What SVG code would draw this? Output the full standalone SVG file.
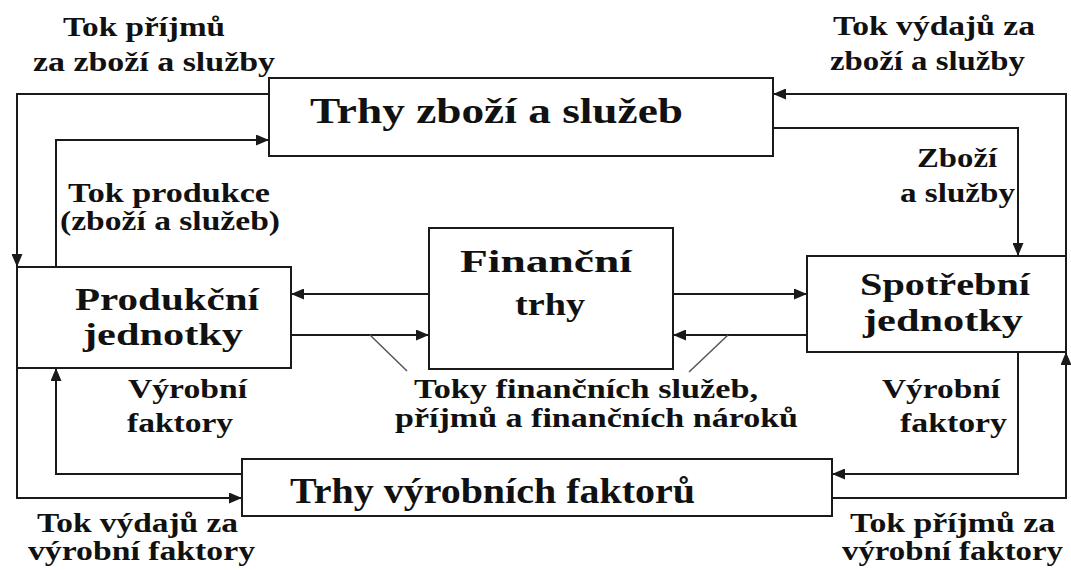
<svg xmlns="http://www.w3.org/2000/svg" width="1071" height="570" viewBox="0 0 1071 570" font-family="'Liberation Serif', 'DejaVu Serif', serif" font-weight="bold">
<style>
.box{fill:#fff;stroke:#1a1a1a;stroke-width:2}
.c{fill:none;stroke:#1a1a1a;stroke-width:2}
.d{fill:none;stroke:#555;stroke-width:1.5}
.lb{font-size:27px;fill:#111}
.nd{font-size:32px;fill:#111}
.tt{font-size:36px;fill:#111}
</style>
<defs>
<marker id="ah" markerUnits="userSpaceOnUse" markerWidth="13" markerHeight="11" refX="13" refY="5.5" orient="auto">
<path d="M0,0 L13,5.5 L0,11 z" fill="#1a1a1a"/>
</marker>
</defs>
<rect width="1071" height="570" fill="#fff"/>
<g id="connectors">
<polyline class="c" points="269,94 17,94 17,267" marker-end="url(#ah)"/>
<polyline class="c" points="56,267 56,140 269,140" marker-end="url(#ah)"/>
<polyline class="c" points="1066,256 1066,94 773,94" marker-end="url(#ah)"/>
<polyline class="c" points="773,128 1018,128 1018,256" marker-end="url(#ah)"/>
<line class="c" x1="429" y1="294" x2="291" y2="294" marker-end="url(#ah)"/>
<line class="c" x1="291" y1="335" x2="429" y2="335" marker-end="url(#ah)"/>
<line class="c" x1="673" y1="294" x2="807" y2="294" marker-end="url(#ah)"/>
<line class="c" x1="807" y1="335" x2="673" y2="335" marker-end="url(#ah)"/>
<polyline class="c" points="242,474 56,474 56,368" marker-end="url(#ah)"/>
<polyline class="c" points="17,368 17,498 242,498" marker-end="url(#ah)"/>
<polyline class="c" points="1018,352 1018,474 832,474" marker-end="url(#ah)"/>
<polyline class="c" points="832,498 1066,498 1066,352" marker-end="url(#ah)"/>
<line class="d" x1="370" y1="335" x2="407" y2="371"/>
<line class="d" x1="728" y1="335" x2="689" y2="372"/>
</g>
<g id="trhy-zbozi">
<rect class="box" x="269" y="78" width="504" height="78"/>
<text class="tt" x="310" y="123" textLength="373" lengthAdjust="spacingAndGlyphs">Trhy zboží a služeb</text>
</g>
<g id="produkcni">
<rect class="box" x="17" y="267" width="274" height="101"/>
<text class="nd" x="75" y="310" textLength="184" lengthAdjust="spacingAndGlyphs">Produkční</text>
<text class="nd" x="83" y="345" textLength="160" lengthAdjust="spacingAndGlyphs">jednotky</text>
</g>
<g id="financni">
<rect class="box" x="429" y="228" width="244" height="141"/>
<text class="nd" x="460" y="272" textLength="172" lengthAdjust="spacingAndGlyphs">Finanční</text>
<text class="nd" x="515" y="315" textLength="70" lengthAdjust="spacingAndGlyphs">trhy</text>
</g>
<g id="spotrebni">
<rect class="box" x="807" y="256" width="259" height="96"/>
<text class="nd" x="860" y="295" textLength="170" lengthAdjust="spacingAndGlyphs">Spotřební</text>
<text class="nd" x="863" y="331" textLength="160" lengthAdjust="spacingAndGlyphs">jednotky</text>
</g>
<g id="trhy-faktoru">
<rect class="box" x="242" y="459" width="590" height="57"/>
<text class="tt" x="290" y="503" textLength="405" lengthAdjust="spacingAndGlyphs">Trhy výrobních faktorů</text>
</g>
<g id="labels">
<text class="lb" x="63" y="36" textLength="162" lengthAdjust="spacingAndGlyphs">Tok příjmů</text>
<text class="lb" x="33" y="71" textLength="242" lengthAdjust="spacingAndGlyphs">za zboží a služby</text>
<text class="lb" x="833" y="35" textLength="202" lengthAdjust="spacingAndGlyphs">Tok výdajů za</text>
<text class="lb" x="830" y="70" textLength="195" lengthAdjust="spacingAndGlyphs">zboží a služby</text>
<text class="lb" x="68" y="202" textLength="202" lengthAdjust="spacingAndGlyphs">Tok produkce</text>
<text class="lb" x="60" y="230" textLength="220" lengthAdjust="spacingAndGlyphs">(zboží a služeb)</text>
<text class="lb" x="917" y="167" textLength="80" lengthAdjust="spacingAndGlyphs">Zboží</text>
<text class="lb" x="900" y="202" textLength="115" lengthAdjust="spacingAndGlyphs">a služby</text>
<text class="lb" x="128" y="398" textLength="119" lengthAdjust="spacingAndGlyphs">Výrobní</text>
<text class="lb" x="127" y="432" textLength="106" lengthAdjust="spacingAndGlyphs">faktory</text>
<text class="lb" x="882" y="398" textLength="118" lengthAdjust="spacingAndGlyphs">Výrobní</text>
<text class="lb" x="900" y="432" textLength="107" lengthAdjust="spacingAndGlyphs">faktory</text>
<text class="lb" x="414" y="398" textLength="344" lengthAdjust="spacingAndGlyphs">Toky finančních služeb,</text>
<text class="lb" x="395" y="427" textLength="403" lengthAdjust="spacingAndGlyphs">příjmů a finančních nároků</text>
<text class="lb" x="37" y="532" textLength="201" lengthAdjust="spacingAndGlyphs">Tok výdajů za</text>
<text class="lb" x="28" y="560" textLength="227" lengthAdjust="spacingAndGlyphs">výrobní faktory</text>
<text class="lb" x="850" y="532" textLength="205" lengthAdjust="spacingAndGlyphs">Tok příjmů za</text>
<text class="lb" x="842" y="560" textLength="221" lengthAdjust="spacingAndGlyphs">výrobní faktory</text>
</g>
</svg>
